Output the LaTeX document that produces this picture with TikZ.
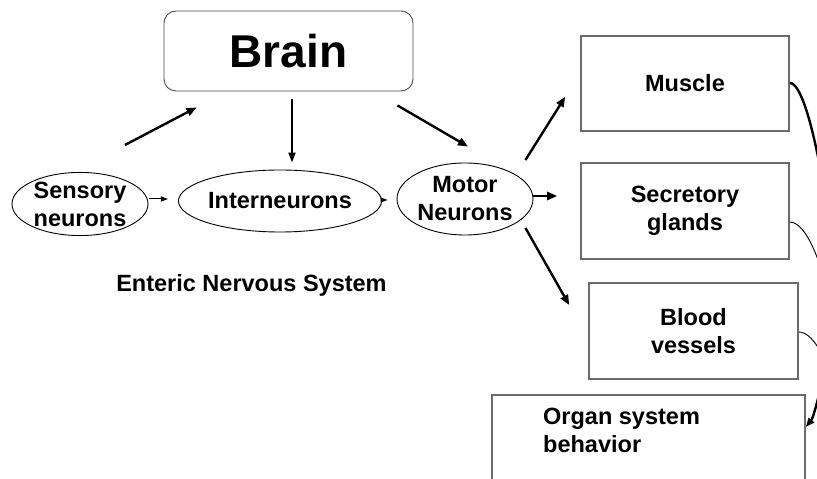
\documentclass[tikz,border=0pt]{standalone}
\usepackage{fontspec}
\setmainfont{Liberation Sans}
\usetikzlibrary{arrows.meta,shapes.geometric}
\tikzset{
  every node/.style={font=\bfseries},
  oval/.style={ellipse,draw=black,line width=0.9pt,inner sep=0pt,align=center,
    font=\fontsize{23.5}{28}\selectfont\bfseries},
  organbox/.style={rectangle,draw=black!58,line width=1.6pt,inner sep=0pt,align=center,
    font=\fontsize{23.5}{28}\selectfont\bfseries},
  heavyarrow/.style={line width=2.4pt,-{Triangle[length=10pt,width=8pt]}},
  midarrow/.style={line width=1.8pt,-{Triangle[length=10pt,width=7pt]}},
  lightarrow/.style={line width=1pt,-{Triangle[length=7pt,width=5pt]}},
  loopthick/.style={line width=2.4pt},
  loopthin/.style={line width=0.9pt},
}
\begin{document}
\begin{tikzpicture}[x=1pt,y=1pt]
\useasboundingbox (0,0) rectangle (817,479);
\clip (0,0) rectangle (817,479);
\fill[white] (0,0) rectangle (817,479);

% central brain box
\node[rectangle,rounded corners=12pt,draw=black!70,line width=0.9pt,
  minimum width=249pt,minimum height=80pt,inner sep=0pt,
  font=\fontsize{46}{50}\selectfont\bfseries] (brain) at (288.5,428) {Brain};

% neuron classes
\node[oval,minimum width=136pt,minimum height=60pt] (sens) at (80,275) {Sensory\\neurons};
\node[oval,minimum width=186pt,minimum height=62pt] (inter) at (280,278) {Interneurons};
\node[oval,minimum width=136pt,minimum height=72pt] (motor) at (465,280) {Motor\\Neurons};

\node[font=\fontsize{23.5}{28}\selectfont\bfseries] (ens) at (251.5,194) {Enteric Nervous System};

% effectors
\node[organbox,minimum width=208pt,minimum height=95pt] (muscle) at (685,395.5) {Muscle};
\node[organbox,minimum width=208pt,minimum height=96pt] (secr) at (685,268) {Secretory\\glands};
\node[organbox,minimum width=209pt,minimum height=96pt] (blood) at (693.5,148) {Blood\\vessels};
\node[organbox,minimum width=313pt,minimum height=104pt] (organ) at (648.5,32) {};
\node[anchor=north west,align=left,inner sep=0pt,
  font=\fontsize{23.5}{28}\selectfont\bfseries] (organtxt) at (543,71) {Organ system\\behavior};

% arrows around the brain
\draw[heavyarrow] ([shift={(45,27)}]sens.north) -- ([shift={(33,-16)}]brain.south west);
\draw[midarrow] ([shift={(3.5,-8)}]brain.south) -- ([shift={(12,7)}]inter.north);
\draw[heavyarrow] ([shift={(-16,-14)}]brain.south east) -- ([shift={(3,16)}]motor.north);

% reflex chain
\draw[lightarrow] ([shift={(1,5)}]sens.east) -- ([shift={(-10,2)}]inter.west);
\draw[lightarrow] ([shift={(0,1)}]inter.east) -- ([shift={(-9,-1)}]motor.west);

% motor outputs
\draw[heavyarrow] ([shift={(-8,39)}]motor.east) -- ([shift={(-15,35)}]muscle.south west);
\draw[heavyarrow] ([shift={(0,3)}]motor.east) -- ([shift={(-23,15)}]secr.west);
\draw[heavyarrow] ([shift={(-8,-29)}]motor.east) -- ([shift={(-19,26)}]blood.west);

% feedback to organ system behaviour
\coordinate (j1) at (824,290);
\coordinate (j2) at (824,200);
\coordinate (j3) at (824,120);
\coordinate (j4) at (826,110);
\draw[loopthick] ([shift={(0,0.5)}]muscle.east) .. controls (800,396) and (812,360) .. (j1);
\draw[loopthin] ([shift={(0,-11)}]secr.east) .. controls (800,257) and (813,240) .. (j2);
\draw[loopthin] ([shift={(0,-1)}]blood.east) .. controls (806,147) and (815,140) .. (j3);
\draw[line width=2.4pt,-{Triangle[length=9pt,width=7pt]}] (j4) .. controls (820,90) and (814,62) .. ([shift={(0,20)}]organ.east);
\end{tikzpicture}
\end{document}
